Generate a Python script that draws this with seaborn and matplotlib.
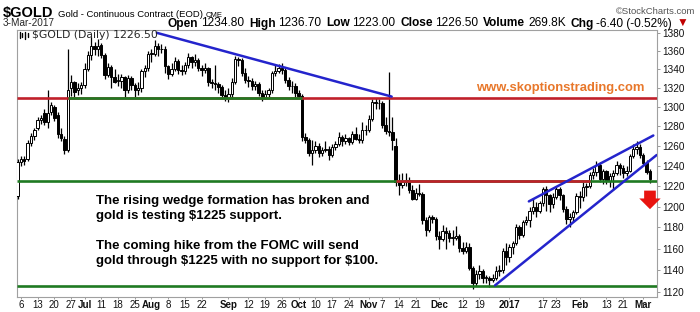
import numpy as np
import pandas as pd
import matplotlib
matplotlib.use("Agg")
import matplotlib.pyplot as plt
import seaborn as sns
from matplotlib import font_manager as fm
from matplotlib.patches import FancyArrowPatch
from matplotlib.lines import Line2D

# ---------------- data ----------------
holidays = ["2016-07-04", "2016-09-05", "2016-11-24", "2016-12-26", "2017-01-02", "2017-02-20"]

opens = [
    1210, 1244, 1247, 1247, 1263, 1270, 1278, 1287, 1294, 1284, 1295, 1300, 1292, 1272, 1267, 1256, 1320, 1326, 1318, 1320,
    1323, 1340, 1356, 1366, 1362, 1367, 1356, 1334, 1343, 1332, 1328, 1328, 1332, 1318, 1331, 1323, 1318, 1320, 1338, 1341,
    1357, 1357, 1366, 1362, 1362, 1344, 1335, 1340, 1349, 1339, 1338, 1345, 1353, 1348, 1350, 1341, 1339, 1342, 1326, 1325, 1324, 1321, 1313,
    1309, 1314, 1326, 1351, 1350, 1336, 1329, 1328, 1322, 1324, 1315, 1310, 1314, 1318, 1336, 1338, 1341, 1339, 1329, 1322, 1322,
    1315, 1312, 1269, 1266, 1253, 1256, 1260, 1253, 1256, 1257, 1251, 1259, 1262, 1269, 1265, 1268, 1264, 1272, 1267, 1266, 1276,
    1276, 1288, 1305, 1304, 1304, 1281, 1275, 1274, 1260, 1224, 1221, 1224, 1226, 1216, 1207, 1213, 1212, 1187, 1178, 1190, 1188,
    1172, 1169, 1177, 1175, 1170, 1170, 1172, 1161, 1158, 1162, 1142, 1128, 1137, 1139, 1133, 1133, 1131, 1133, 1139, 1140, 1158,
    1152, 1162, 1165, 1180, 1173, 1185, 1187, 1196, 1200, 1196, 1203, 1217, 1211, 1202, 1209, 1217, 1211, 1198, 1188, 1190, 1195,
    1210, 1209, 1219, 1220, 1231, 1234, 1241, 1227, 1235, 1225, 1230, 1233, 1241, 1238, 1233, 1235, 1250, 1257, 1259,
    1251, 1243, 1234.8,
]
highs = [
    1247, 1250, 1250, 1266, 1273, 1278, 1290, 1292, 1298, 1318, 1305, 1302, 1295, 1278, 1270, 1362, 1334, 1328, 1325, 1327,
    1347, 1360, 1375, 1370, 1373, 1369, 1358, 1347, 1345, 1340, 1335, 1335, 1333, 1334, 1333, 1325, 1326, 1340, 1345, 1360,
    1362, 1372, 1369, 1368, 1366, 1345, 1347, 1353, 1351, 1345, 1348, 1358, 1355, 1357, 1352, 1345, 1347, 1343, 1330, 1345, 1327, 1323, 1318,
    1320, 1331, 1355, 1353, 1352, 1341, 1333, 1331, 1328, 1326, 1318, 1318, 1320, 1338, 1345, 1346, 1347, 1342, 1332, 1328, 1325,
    1318, 1314, 1273, 1268, 1266, 1265, 1263, 1259, 1265, 1260, 1262, 1265, 1274, 1271, 1272, 1269, 1275, 1279, 1272, 1284, 1281,
    1292, 1308, 1310, 1308, 1306, 1290, 1337, 1290, 1268, 1232, 1233, 1233, 1229, 1221, 1218, 1222, 1214, 1190, 1192, 1192, 1190,
    1177, 1182, 1180, 1178, 1178, 1181, 1174, 1166, 1166, 1165, 1144, 1140, 1145, 1141, 1136, 1135, 1137, 1144, 1145, 1161, 1165,
    1164, 1167, 1183, 1182, 1187, 1191, 1200, 1208, 1204, 1205, 1219, 1220, 1212, 1213, 1220, 1219, 1212, 1201, 1194, 1197, 1213,
    1215, 1224, 1223, 1234, 1238, 1245, 1244, 1237, 1236, 1233, 1236, 1245, 1243, 1241, 1240, 1252, 1262, 1265, 1262,
    1253, 1246, 1236.7,
]
lows = [
    1207, 1240, 1241, 1245, 1260, 1266, 1276, 1282, 1281, 1278, 1292, 1285, 1268, 1265, 1252, 1254, 1312, 1311, 1313, 1314,
    1320, 1338, 1350, 1356, 1355, 1352, 1330, 1332, 1320, 1325, 1322, 1320, 1310, 1315, 1318, 1311, 1313, 1316, 1332, 1338,
    1348, 1354, 1355, 1358, 1336, 1330, 1333, 1338, 1335, 1334, 1335, 1342, 1342, 1344, 1338, 1333, 1336, 1322, 1320, 1318, 1315, 1308, 1306,
    1305, 1308, 1324, 1344, 1333, 1325, 1321, 1318, 1318, 1312, 1306, 1308, 1311, 1315, 1333, 1336, 1335, 1325, 1318, 1315, 1311,
    1310, 1265, 1263, 1250, 1241, 1253, 1249, 1250, 1254, 1246, 1249, 1256, 1260, 1260, 1262, 1261, 1262, 1266, 1263, 1263, 1271,
    1274, 1286, 1298, 1298, 1278, 1272, 1270, 1256, 1220, 1211, 1218, 1220, 1213, 1206, 1206, 1210, 1183, 1172, 1176, 1184, 1168,
    1160, 1167, 1160, 1166, 1163, 1168, 1157, 1155, 1156, 1140, 1123, 1126, 1132, 1128, 1128, 1125, 1129, 1131, 1135, 1138, 1145,
    1148, 1155, 1163, 1169, 1171, 1182, 1180, 1193, 1190, 1194, 1201, 1196, 1195, 1199, 1207, 1206, 1195, 1183, 1180, 1186, 1193,
    1199, 1205, 1210, 1218, 1227, 1230, 1224, 1222, 1222, 1219, 1216, 1231, 1231, 1228, 1230, 1234, 1248, 1252, 1248,
    1240, 1232, 1223,
]
closes = [
    1244, 1247, 1245, 1263, 1270, 1276, 1287, 1289, 1284, 1294, 1302, 1289, 1272, 1268, 1256, 1318, 1326, 1316, 1320, 1323,
    1340, 1356, 1366, 1362, 1366, 1356, 1334, 1343, 1332, 1327, 1328, 1332, 1318, 1331, 1323, 1318, 1320, 1338, 1341, 1357,
    1357, 1366, 1362, 1362, 1344, 1335, 1340, 1349, 1339, 1338, 1345, 1353, 1348, 1350, 1341, 1339, 1342, 1326, 1325, 1324, 1321, 1313, 1309,
    1314, 1326, 1351, 1350, 1336, 1329, 1328, 1322, 1324, 1315, 1310, 1314, 1318, 1336, 1338, 1341, 1339, 1329, 1322, 1322, 1315,
    1312, 1269, 1266, 1253, 1256, 1260, 1253, 1256, 1257, 1251, 1259, 1262, 1269, 1265, 1268, 1264, 1272, 1267, 1266, 1276, 1276,
    1288, 1305, 1304, 1304, 1281, 1275, 1274, 1266, 1224, 1221, 1224, 1226, 1216, 1207, 1213, 1212, 1187, 1178, 1190, 1188, 1172,
    1169, 1177, 1175, 1170, 1170, 1172, 1161, 1158, 1162, 1142, 1128, 1137, 1139, 1133, 1133, 1131, 1133, 1139, 1140, 1158, 1152,
    1162, 1165, 1180, 1173, 1185, 1187, 1196, 1200, 1196, 1203, 1217, 1211, 1202, 1209, 1217, 1211, 1198, 1188, 1190, 1195, 1210,
    1209, 1219, 1220, 1231, 1234, 1241, 1227, 1235, 1225, 1230, 1233, 1241, 1238, 1233, 1235, 1250, 1257, 1259, 1251,
    1243, 1234, 1226.5,
]

tick_dates = ["2016-06-06", "2016-06-13", "2016-06-20", "2016-06-27", "2016-07-01", "2016-07-11", "2016-07-18",
              "2016-07-25", "2016-08-01", "2016-08-08", "2016-08-15", "2016-08-22", "2016-09-01", "2016-09-12",
              "2016-09-19", "2016-09-26", "2016-10-03", "2016-10-10", "2016-10-17", "2016-10-24", "2016-11-01",
              "2016-11-07", "2016-11-14", "2016-11-21", "2016-12-01", "2016-12-12", "2016-12-19", "2017-01-03",
              "2017-01-17", "2017-01-23", "2017-02-01", "2017-02-13", "2017-02-21", "2017-03-01"]
tick_labels = ["6", "13", "20", "27", "Jul", "11", "18", "25", "Aug", "8", "15", "22", "Sep", "12", "19", "26",
               "Oct", "10", "17", "24", "Nov", "7", "14", "21", "Dec", "12", "19", "2017", "17", "23", "Feb",
               "13", "21", "Mar"]
bold_labels = {"Jul", "Aug", "Sep", "Oct", "Nov", "Dec", "2017", "Feb", "Mar"}
price_ticks = list(range(1120, 1381, 20))

# support / resistance levels: (price, start date, end date, colour name)
level_segments = [
    (1310, "2016-06-03", "2017-03-03", "red"),
    (1310, "2016-06-24", "2016-10-04", "green"),
    (1225, "2016-06-03", "2017-03-03", "green"),
    (1225, "2016-11-11", "2017-02-06", "red"),
    (1126, "2016-06-03", "2017-03-03", "green"),
]
# trend lines: (start index, start price, end index, end price)
trend_lines = [
    (41.6, 1380.0, 111.8, 1311.0),
    (152.8, 1205.0, 190.0, 1270.6),
    (142.7, 1126.3, 191.0, 1250.8),
]

# ---------------- build ----------------
dates = pd.bdate_range("2016-06-03", "2017-03-03", freq="C", holidays=holidays)
df = pd.DataFrame({"date": dates, "open": opens, "high": highs, "low": lows, "close": closes})
df["i"] = np.arange(len(df))
pos = {d.strftime("%Y-%m-%d"): i for i, d in enumerate(dates)}

sns.set_style("white")
def has_font(name):
    try:
        fm.findfont(fm.FontProperties(family=name), fallback_to_default=False)
        return True
    except Exception:
        return False
SANS = "Liberation Sans" if has_font("Liberation Sans") else "DejaVu Sans"
plt.rcParams["font.family"] = [SANS, "DejaVu Sans"]

W, H = 700, 312
fig = plt.figure(figsize=(W / 100, H / 100), dpi=100)
L, R, T, B = 16.7, 657.0, 29.5, 297.0
ax = fig.add_axes([L / W, (H - B) / H, (R - L) / W, (B - T) / H])

RED = "#c0202a"
GREEN = "#1f7a22"
BLUE = "#2424cc"
cmap = {"red": RED, "green": GREEN}

# candles
up = df["close"] >= df["open"]
bottom = np.minimum(df["open"], df["close"])
height = np.maximum((df["close"] - df["open"]).abs(), 0.7)
ax.vlines(df["i"], df["low"], df["high"], color="black", lw=0.9, zorder=3)
ax.bar(df["i"][up], height[up], bottom=bottom[up], width=0.72, color="white",
       edgecolor="black", linewidth=0.7, zorder=4)
ax.bar(df["i"][~up], height[~up], bottom=bottom[~up], width=0.72, color="black",
       edgecolor="black", linewidth=0.7, zorder=4)

x0, x1 = -0.27, 191.1
for price, d0, d1, c in level_segments:
    a = pos[d0] if d0 != "2016-06-03" else x0
    b = pos[d1] if d1 != "2017-03-03" else x1
    ax.hlines(price, a, b, color=cmap[c], lw=1.9, zorder=5)

for (ia, pa, ib, pb) in trend_lines:
    sns.lineplot(x=[ia, ib], y=[pa, pb], ax=ax, color=BLUE, lw=1.8, zorder=6)

ax.set_yscale("log")
ax.set_ylim(1115.8, 1383.7)
ax.set_xlim(x0, x1)
ax.yaxis.tick_right()
ax.set_yticks(price_ticks)
ax.set_yticklabels([str(p) for p in price_ticks])
ax.yaxis.set_minor_locator(matplotlib.ticker.NullLocator())
ax.set_xticks([pos[d] for d in tick_dates])
ax.set_xticklabels(tick_labels)
for lab in ax.get_xticklabels():
    if lab.get_text() in bold_labels:
        lab.set_fontweight("bold")
ax.tick_params(axis="y", which="major", right=True, length=2.5, width=0.6, color="#888888",
               labelsize=7.2, pad=1.5, labelcolor="#111111")
ax.tick_params(axis="x", which="major", bottom=True, length=1.5, width=0.6, color="#888888",
               labelsize=7, pad=1.0, labelcolor="#111111")
ax.set_xlabel("")
ax.set_ylabel("")
for s in ax.spines.values():
    s.set_color("#a0a0a0")
    s.set_linewidth(0.8)

# red down arrow
arr = FancyArrowPatch((189.0, 1215.5), (189.0, 1197.5),
                      arrowstyle="simple,head_length=0.55,head_width=1.1,tail_width=0.6",
                      mutation_scale=14, color="#e8140f", lw=0, zorder=7, clip_on=False,
                      shrinkA=0, shrinkB=0)
ax.add_patch(arr)

def fx(x): return x / W
def fy(y): return 1 - y / H

fig.canvas.draw()
rend = fig.canvas.get_renderer()

def place_row(x, y, items):
    """items: (text, fontsize, weight, color, gap_after)"""
    out = []
    for s, size, wgt, col, gap in items:
        t = fig.text(fx(x), fy(y), s, fontsize=size, fontweight=wgt, color=col,
                     family=[SANS, "DejaVu Sans"], va="baseline", ha="left", parse_math=False)
        x += t.get_window_extent(renderer=rend).width + gap
        out.append(t)
    return out

# header
place_row(3, 17, [("$GOLD", 10.5, "bold", "black", 4),
                  ("Gold - Continuous Contract (EOD)", 6.8, "normal", "black", 3),
                  ("CME", 5.5, "normal", "black", 0)])
fig.text(fx(695), fy(13.5), "\u00a9StockCharts.com", fontsize=6.8, color="#555555",
         ha="right", va="baseline", parse_math=False)
fig.text(fx(3), fy(26.5), "3-Mar-2017", fontsize=7.2, va="baseline", parse_math=False)

pieces = [("Open", "bold", "black"), ("1234.80", "normal", "black"), ("High", "bold", "black"),
          ("1236.70", "normal", "black"), ("Low", "bold", "black"), ("1223.00", "normal", "black"),
          ("Close", "bold", "black"), ("1226.50", "normal", "black"), ("Volume", "bold", "black"),
          ("269.8K", "normal", "black"), ("Chg", "bold", "black"), ("-6.40 (-0.52%)", "normal", "black"),
          ("\u25bc", "normal", "#c00000")]
texts = []
for s, wgt, col in pieces:
    t = fig.text(0, fy(26.5), s, fontsize=8, fontweight=wgt, color=col, family=[SANS, "DejaVu Sans"],
                 va="baseline", ha="left", parse_math=False)
    texts.append(t)
base_gaps = [2.5 if k % 2 == 0 else 4.5 for k in range(len(pieces))]
widths = [t.get_window_extent(renderer=rend).width for t in texts]
total = sum(widths) + sum(base_gaps[:-1])
scale = (689 - 168) / total
for t in texts:
    t.set_fontsize(8 * scale)
widths = [t.get_window_extent(renderer=rend).width for t in texts]
xs = 168
for t, w, g in zip(texts, widths, base_gaps):
    t.set_x(fx(xs))
    xs += w + g * scale

# legend inside plot
fig.text(fx(31.5), fy(38.5), "$GOLD (Daily) 1226.50", fontsize=7.8, family="DejaVu Sans",
         va="baseline", parse_math=False)
for (xx, y0, y1) in [(20, 32, 38), (22.5, 33, 37), (25, 31.5, 38.5), (27.5, 33, 36.5)]:
    fig.add_artist(Line2D([fx(xx), fx(xx)], [fy(y0), fy(y1)], color="black", lw=1.0))

# annotations
fig.text(fx(560.5), fy(91), "www.skoptionstrading.com", fontsize=9.4, fontweight="bold",
         color="#e8772a", ha="center", va="baseline")
ann = ["The rising wedge formation has broken and", "gold is testing $1225 support.", "",
       "The coming hike from the FOMC will send", "gold through $1225 with no support for $100."]
for k, line in enumerate(ann):
    if line:
        fig.text(fx(96), fy(204.3 + 15 * k), line, fontsize=9.5, fontweight="bold",
                 color="black", ha="left", va="baseline", parse_math=False)

fig.savefig("out.png", dpi=100)
